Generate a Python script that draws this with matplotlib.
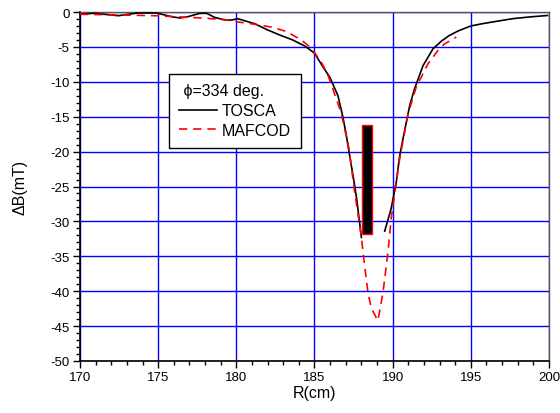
import matplotlib
matplotlib.use("Agg")
import matplotlib.pyplot as plt
from matplotlib.ticker import MultipleLocator

plt.rcParams['font.family'] = ['Liberation Sans', 'DejaVu Sans']
plt.rcParams['axes.unicode_minus'] = False

# TOSCA (left branch and right branch)
tosca_left_r = [170.0, 170.96, 172.45, 173.7, 174.9, 175.85, 176.4, 176.9, 177.67, 178.1, 178.6,
                179.27, 179.7, 180.1, 181.2, 181.93, 182.78, 183.6, 184.4, 185.0, 185.55, 185.97,
                186.5, 186.8, 187.04, 187.25, 187.5, 187.7, 188.0]
tosca_left_b = [-0.29, -0.19, -0.53, -0.14, -0.14, -0.67, -0.86, -0.67, -0.19, -0.19, -0.76,
                -1.15, -1.15, -0.96, -1.7, -2.5, -3.3, -4.0, -4.9, -5.9, -7.9, -9.3,
                -12.0, -14.86, -17.7, -20.6, -23.9, -26.8, -32.3]
tosca_right_r = [189.49, 189.9, 190.23, 190.45, 190.7, 191.09, 191.4, 191.94, 192.57, 193.1,
                 193.6, 194.2, 195.0, 195.8, 196.6, 197.7, 198.8, 199.9]
tosca_right_b = [-31.4, -28.2, -24.4, -20.6, -17.7, -13.4, -11.0, -7.7, -5.3, -4.2,
                 -3.4, -2.7, -2.0, -1.65, -1.35, -0.95, -0.7, -0.5]

# MAFCOD
mafcod_r = [170.0, 171.8, 174.8, 177.8, 179.27, 180.0, 181.07, 182.35, 183.2, 184.16, 184.8,
            185.44, 185.87, 186.7, 187.2, 187.57, 188.0, 188.1, 188.42, 188.64, 189.06, 189.38,
            189.7, 189.9, 190.2, 190.45, 190.7, 191.0, 191.5, 192.25, 192.9, 193.3, 194.07]
mafcod_b = [-0.33, -0.39, -0.53, -0.86, -1.1, -1.4, -1.72, -2.2, -2.8, -4.0, -5.2,
            -7.2, -9.1, -14.4, -19.5, -25.8, -32.2, -34.4, -40.2, -42.5, -44.2, -40.2,
            -34.4, -29.7, -24.9, -21.0, -18.0, -14.5, -10.8, -7.45, -5.5, -4.6, -3.6]

# Bar marker
bar_r = [188.35]
bar_top = [-16.2]
bar_bottom = [-31.8]
bar_width = 0.65

fig = plt.figure(figsize=(5.6, 4.14), dpi=100)
ax = fig.add_axes([80/560, 1-362/414, 469/560, 349/414])

ax.grid(True, which='major', color='#0000ff', linewidth=1.0)
ax.set_axisbelow(True)

ax.bar(bar_r, [t - b for t, b in zip(bar_top, bar_bottom)], bottom=bar_bottom, width=bar_width,
       color='black', edgecolor='red', linewidth=1.0, zorder=3)

ax.plot(tosca_left_r, tosca_left_b, color='black', lw=1.2, label='TOSCA', zorder=4)
ax.plot(tosca_right_r, tosca_right_b, color='black', lw=1.2, zorder=4)
ax.plot(mafcod_r, mafcod_b, color='red', lw=1.2, ls=(0, (5, 3.5)), label='MAFCOD', zorder=5)

ax.set_xlim(170, 200)
ax.set_ylim(-50, 0)
ax.xaxis.set_major_locator(MultipleLocator(5))
ax.xaxis.set_minor_locator(MultipleLocator(1))
ax.yaxis.set_major_locator(MultipleLocator(5))
ax.yaxis.set_minor_locator(MultipleLocator(1))
ax.tick_params(which='major', direction='out', length=5, width=1, labelsize=9.5, colors='black', pad=2.5)
ax.tick_params(which='minor', direction='out', length=3, width=1)
ax.tick_params(top=False, right=False)

for s in ['left', 'bottom']:
    ax.spines[s].set_color('black')
    ax.spines[s].set_linewidth(1.2)
for s in ['top', 'right']:
    ax.spines[s].set_color('#555555')
    ax.spines[s].set_linewidth(1.0)

ax.set_xlabel('R(cm)', fontsize=11.5, labelpad=1)
ax.set_ylabel('ΔB(mT)', fontsize=11.5)
ax.yaxis.set_label_coords(-0.111, 0.5)

leg = ax.legend(title=' ϕ=334 deg.', loc='upper left', bbox_to_anchor=(0.190, 0.823),
                fontsize=11.5, title_fontsize=11.5, frameon=True, fancybox=False,
                edgecolor='black', framealpha=1, handlelength=2.4, borderaxespad=0,
                labelspacing=0.3, handletextpad=0.3, borderpad=0.6)
leg.get_frame().set_linewidth(1.0)
leg._legend_box.align = 'left'
leg.set_zorder(10)

fig.savefig('out.png', dpi=100)
